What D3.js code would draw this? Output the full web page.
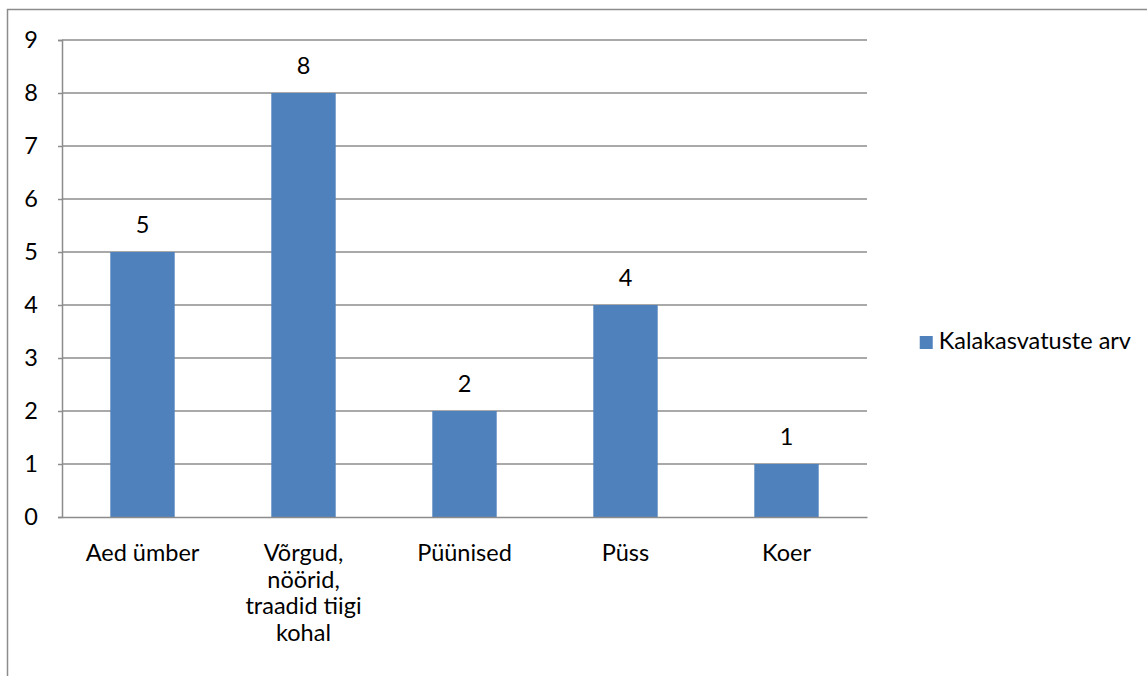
<!DOCTYPE html>
<html>
<head>
<meta charset="utf-8">
<script src="https://cdn.jsdelivr.net/npm/d3@7"></script>
<style>
  html, body { margin: 0; padding: 0; background: #fff; }
  svg { display: block; font-family: Lato, "Open Sans", sans-serif; }
</style>
</head>
<body>
<svg id="chart" width="1147" height="676"></svg>
<script>
// Data
const categories = ["Aed ümber", "Võrgud, nöörid, traadid tiigi kohal", "Püünised", "Püss", "Koer"];
const values = [5, 8, 2, 4, 1];
const seriesName = "Kalakasvatuste arv";
const yTicks = [0, 1, 2, 3, 4, 5, 6, 7, 8, 9];

const svg = d3.select("#chart");
const W = 1147, H = 676;
const plot = { left: 62, top: 40, right: 867, bottom: 517 };
const barColor = "#4F81BD";
const gridColor = "#8C8C8C";
const fontSize = 23.5;
const fontFamily = "Lato, 'Open Sans', sans-serif";

// Outer chart frame (extends past the right and bottom edges)
svg.append("rect")
  .attr("x", 7.5).attr("y", 9.5)
  .attr("width", W + 10).attr("height", H + 10)
  .attr("fill", "none").attr("stroke", "#8C8C8C").attr("stroke-width", 1.5);

const x = d3.scaleBand().domain(categories).range([plot.left, plot.right]).paddingInner(0.6).paddingOuter(0.3);
const y = d3.scaleLinear().domain([0, 9]).range([plot.bottom, plot.top]);

// Horizontal gridlines
svg.append("g").selectAll("line").data(yTicks.filter(d => d > 0)).join("line")
  .attr("x1", plot.left).attr("x2", plot.right)
  .attr("y1", d => y(d)).attr("y2", d => y(d))
  .attr("stroke", gridColor).attr("stroke-width", 1.5);

// Bars
svg.append("g").selectAll("rect").data(values).join("rect")
  .attr("x", (d, i) => x(categories[i]))
  .attr("y", d => y(d))
  .attr("width", x.bandwidth())
  .attr("height", d => y(0) - y(d))
  .attr("fill", barColor);

// Y axis
const yAxis = svg.append("g")
  .attr("transform", `translate(${plot.left},0)`)
  .call(d3.axisLeft(y).tickValues(yTicks).tickSize(4).tickPadding(20).tickFormat(d3.format("d")));
yAxis.attr("font-family", fontFamily).attr("font-size", fontSize);
yAxis.select(".domain").attr("stroke", gridColor).attr("stroke-width", 1.5);
yAxis.selectAll(".tick line").attr("stroke", gridColor).attr("stroke-width", 1.5);
yAxis.selectAll(".tick text").attr("fill", "#000");

// X axis baseline
const xAxis = svg.append("g")
  .attr("transform", `translate(0,${plot.bottom})`)
  .call(d3.axisBottom(x).tickSize(0).tickFormat(""));
xAxis.select(".domain").attr("stroke", gridColor).attr("stroke-width", 1.5);
xAxis.selectAll(".tick").remove();

// Category labels, wrapped to the band
const wrapWidth = 140;
const catG = svg.append("g").attr("font-family", fontFamily).attr("font-size", fontSize);
categories.forEach(cat => {
  const cx = x(cat) + x.bandwidth() / 2;
  const t = catG.append("text")
    .attr("x", cx).attr("y", 561)
    .attr("text-anchor", "middle")
    .attr("fill", "#000");
  const words = cat.split(" ");
  let line = [];
  let tspan = t.append("tspan").attr("x", cx).attr("dy", 0);
  words.forEach(w => {
    line.push(w);
    tspan.text(line.join(" "));
    if (tspan.node().getComputedTextLength() > wrapWidth && line.length > 1) {
      line.pop();
      tspan.text(line.join(" "));
      line = [w];
      tspan = t.append("tspan").attr("x", cx).attr("dy", 26.5).text(w);
    }
  });
});

// Value labels
svg.append("g").attr("font-family", fontFamily).attr("font-size", fontSize)
  .selectAll("text").data(values).join("text")
  .attr("x", (d, i) => x(categories[i]) + x.bandwidth() / 2)
  .attr("y", d => y(d) - 19)
  .attr("text-anchor", "middle")
  .attr("fill", "#000")
  .text(d => d);

// Legend: text right-aligned near the frame edge, swatch before it
const legendRight = 1131, legendBaseline = 349;
const lg = svg.append("g").attr("font-family", fontFamily).attr("font-size", fontSize);
const lt = lg.append("text")
  .attr("x", legendRight).attr("y", legendBaseline)
  .attr("text-anchor", "end").attr("fill", "#000").text(seriesName);
const textStart = legendRight - lt.node().getComputedTextLength();
lg.append("rect")
  .attr("x", textStart - 19).attr("y", legendBaseline - 13)
  .attr("width", 13).attr("height", 13).attr("fill", barColor);
</script>
</body>
</html>
